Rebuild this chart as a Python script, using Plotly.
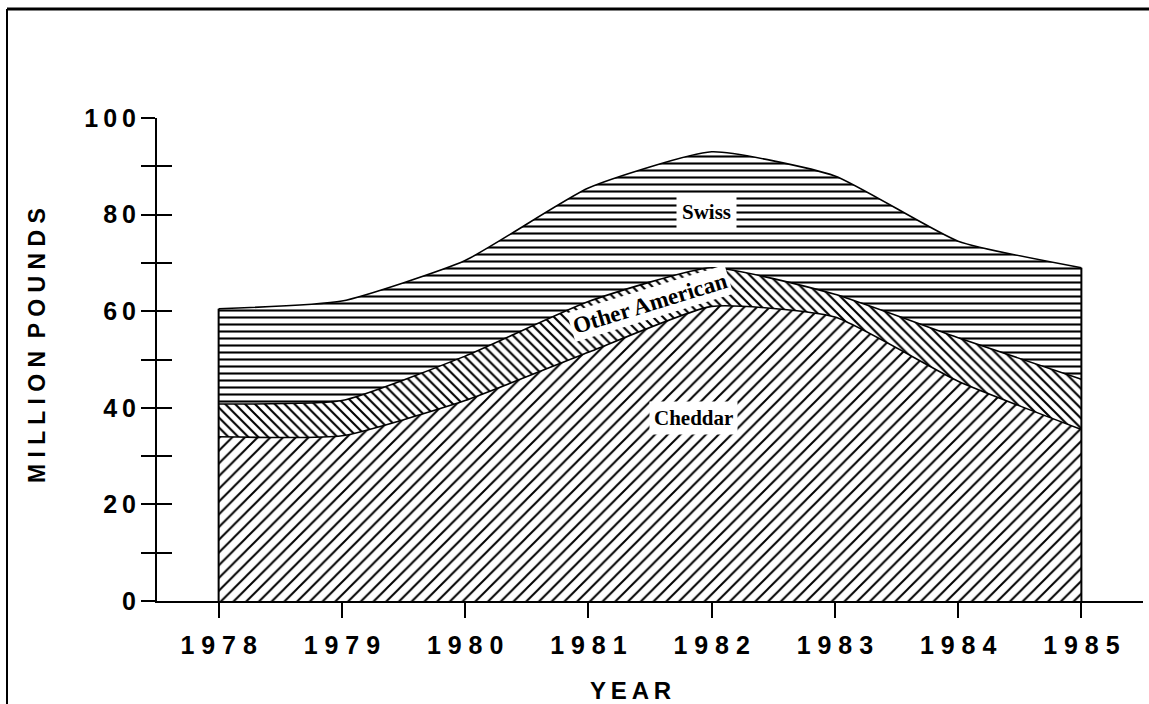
import plotly.graph_objects as go

# ---- data (million pounds) ----
years = [1978, 1979, 1980, 1981, 1982, 1983, 1984, 1985]
cheddar = [34.0, 34.2, 41.5, 51.5, 61.0, 58.8, 45.5, 35.5]
other_american = [6.8, 7.3, 9.2, 10.5, 8.0, 4.7, 9.0, 10.4]
swiss = [19.7, 20.6, 19.8, 23.5, 24.0, 24.5, 20.0, 23.1]
y_tick_vals = [0, 20, 40, 60, 80, 100]

series_names = ["Cheddar", "Other American", "Swiss"]
series_vals = [cheddar, other_american, swiss]
patterns = [("/", 9, 0.22), ("\\", 7, 0.3), ("-", 7, 0.3)]

totals = [a + b + c for a, b, c in zip(cheddar, other_american, swiss)]


def spaced(s, sep=" "):
    return sep.join(list(str(s)))


fig = go.Figure()
for name, vals, (shape, size, sol) in zip(series_names, series_vals, patterns):
    fig.add_trace(go.Scatter(
        x=years, y=vals, name=name, stackgroup="cheese", mode="lines",
        line=dict(color="black", width=1.6, shape="spline", smoothing=0.5),
        fillcolor="white",
        fillpattern=dict(shape=shape, size=size, solidity=sol,
                         fgcolor="black", bgcolor="white", fillmode="replace"),
        hoverinfo="skip",
    ))

# vertical edges of the stacked area
for i in (0, -1):
    fig.add_trace(go.Scatter(
        x=[years[i], years[i]], y=[0, totals[i]], mode="lines",
        line=dict(color="black", width=2), hoverinfo="skip", yaxis="y2",
    ))

serif = dict(family="Liberation Serif", size=21, color="black", weight="bold")
fig.add_annotation(x=1981.96, y=80.6, text="Swiss", showarrow=False,
                   font=serif, bgcolor="white", borderpad=5)
fig.add_annotation(x=1981.5, y=61.6, text="Other American", showarrow=False,
                   font=dict(serif, size=23), bgcolor="white", borderpad=2, textangle=-17)
fig.add_annotation(x=1981.85, y=37.8, text="Cheddar", showarrow=False,
                   font=serif, bgcolor="white", borderpad=4)

sans = dict(family="Liberation Sans", size=24, color="black", weight="bold")
fig.add_annotation(xref="paper", yref="paper", x=(630 - 157) / 986, y=(601 - 690) / 483,
                   text="Y\u2009E\u2009A\u2009R", showarrow=False, font=sans,
                   xanchor="center", yanchor="middle")
fig.add_annotation(xref="paper", yref="paper", x=(37 - 157) / 986, y=(601 - 346) / 483,
                   text="M I L L I O N\u00a0\u00a0P O U N D S", showarrow=False,
                   font=dict(family="Liberation Sans", size=23, color="black", weight="bold"),
                   textangle=-90, xanchor="center", yanchor="middle")

# page border (top and left)
bx = (7 - 157) / 986
by = (601 - 9) / 483
fig.add_shape(type="line", xref="paper", yref="paper", x0=bx, x1=1.02, y0=by, y1=by,
              line=dict(color="black", width=3))
fig.add_shape(type="line", xref="paper", yref="paper", x0=bx, x1=bx, y0=by, y1=-0.3,
              line=dict(color="black", width=2))

tick_font = dict(family="Liberation Sans", size=25, color="black", weight="bold")
fig.update_layout(
    width=1149, height=704,
    margin=dict(l=157, r=6, t=118, b=103),
    plot_bgcolor="white", paper_bgcolor="white",
    showlegend=False,
    xaxis=dict(range=[1977.5, 1985.5], tickvals=years,
               ticktext=[spaced(y) for y in years],
               ticks="outside", ticklen=15, tickwidth=2, tickcolor="black",
               showline=True, linecolor="black", linewidth=2,
               showgrid=False, zeroline=False, tickfont=tick_font,
               ticklabelstandoff=6),
    yaxis=dict(range=[0, 100], tickvals=y_tick_vals,
               ticktext=[spaced(v, "\u2009") for v in y_tick_vals],
               ticks="outside", ticklen=14, tickwidth=2, tickcolor="black",
               minor=dict(dtick=10, ticks="outside", ticklen=14, tickwidth=2,
                          tickcolor="black"),
               showline=True, linecolor="black", linewidth=2,
               showgrid=False, zeroline=False, tickfont=tick_font),
    yaxis2=dict(range=[0, 100], overlaying="y", side="left", anchor="x",
                dtick=10, ticks="inside", ticklen=15, tickwidth=2, tickcolor="black",
                showticklabels=False, showline=False, showgrid=False, zeroline=False),
)

fig.write_html("out.html", config={"displayModeBar": False},
               post_script="document.body.style.margin='0';document.body.style.overflow='hidden';")
